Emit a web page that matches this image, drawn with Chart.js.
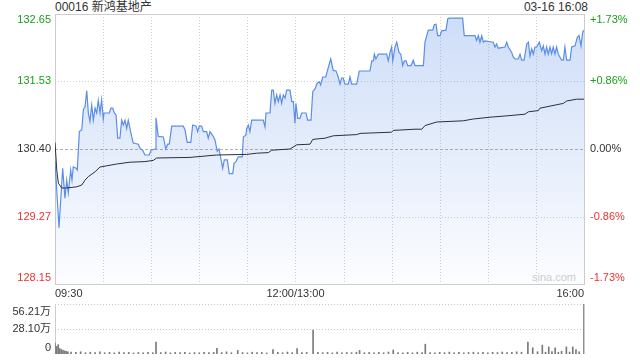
<!DOCTYPE html>
<html>
<head>
<meta charset="utf-8">
<script src="https://cdn.jsdelivr.net/npm/chart.js@4.4.1/dist/chart.umd.min.js"></script>
<style>
  body { margin: 0; background: #fff; }
  #wrap { position: relative; width: 640px; height: 360px; font-family: "Liberation Sans", Arial, "Noto Sans CJK SC", sans-serif; color: #333; }
  #title { position: absolute; left: 55px; top: 0px; font-size: 12px; line-height: 14px; }
  #stamp { position: absolute; right: 52px; top: 0px; font-size: 12px; line-height: 14px; }
  #mark { position: absolute; left: 532px; top: 271px; font-size: 11px; line-height: 13px; color: #d0d0d0; }
  canvas { position: absolute; left: 0; }
</style>
</head>
<body>
<div id="wrap">
  <div id="title">00016 新鸿基地产</div>
  <div id="stamp">03-16 16:08</div>
  <div id="mark">sina.com</div>
  <canvas id="price" width="640" height="300" style="top:0"></canvas>
  <canvas id="vol" width="640" height="65" style="top:295px"></canvas>
</div>
<script>
// minutes since 09:30 (lunch break removed, 330 = 16:00)
const priceTimes = [
  0, 2.5, 4.8, 6.2, 7.3, 8.3, 9.8, 10.6, 11.4, 13.1,
  13.9, 15.2, 16.7, 17.7, 18.7, 19.8, 20.8, 21.8, 22.9, 23.9,
  25.0, 26.0, 27.0, 28.1, 29.1, 30.1, 30.6, 33.9, 34.9, 36.0,
  37.0, 38.1, 39.1, 40.5, 41.6, 42.6, 43.7, 44.7, 45.7, 46.8,
  47.8, 48.8, 52.0, 53.0, 54.7, 56.1, 58.8, 59.9, 62.4, 63.0,
  64.4, 67.6, 69.1, 70.3, 71.3, 72.8, 80.0, 81.1, 82.5, 84.7,
  85.9, 88.0, 89.0, 90.0, 91.5, 92.5, 94.6, 95.6, 96.7, 98.7,
  99.8, 101.2, 102.3, 103.4, 104.6, 105.6, 107.5, 108.7, 110.9, 111.7,
  112.9, 114.3, 116.8, 117.5, 119.0, 119.6, 120.6, 121.6, 122.7, 129.9,
  131.0, 131.6, 134.1, 135.2, 136.2, 137.2, 138.3, 139.3, 140.4, 141.4,
  142.4, 143.5, 144.5, 146.6, 147.7, 148.7, 149.7, 150.3, 151.4, 152.8,
  153.9, 156.6, 157.6, 159.7, 160.8, 162.2, 163.6, 164.9, 165.7, 167.0,
  168.9, 170.5, 172.0, 173.6, 175.3, 176.7, 177.8, 178.8, 179.8, 180.9,
  183.0, 184.0, 185.1, 188.2, 189.8, 196.5, 197.6, 198.6, 199.2, 200.2,
  201.7, 206.9, 207.9, 209.0, 210.0, 210.7, 212.1, 213.2, 214.6, 215.7,
  216.9, 217.9, 219.0, 220.0, 222.1, 223.5, 224.6, 229.8, 230.8, 231.9,
  232.9, 235.6, 236.6, 237.7, 238.7, 240.2, 241.2, 243.9, 245.0, 246.0,
  254.3, 254.7, 255.3, 262.0, 263.0, 264.1, 265.1, 266.2, 267.2, 268.2,
  273.4, 274.5, 275.5, 276.5, 280.7, 281.8, 282.8, 284.9, 285.9, 287.0,
  289.0, 290.1, 291.1, 292.6, 294.3, 295.3, 296.3, 297.4, 298.4, 299.4,
  300.5, 302.1, 303.6, 304.6, 305.7, 306.7, 307.7, 308.8, 309.8, 310.8,
  311.9, 312.9, 314.0, 316.1, 317.1, 318.1, 319.2, 321.3, 322.3, 324.4,
  325.8, 326.9, 328.1, 329.2, 330.0
];
const priceValues = [
  130.20, 129.09, 130.08, 129.58, 129.88, 129.67, 130.05, 129.88, 130.10, 130.08,
  130.05, 130.69, 130.72, 131.06, 131.10, 131.37, 131.00, 130.86, 131.13, 130.88,
  131.08, 131.00, 131.21, 131.00, 131.22, 130.90, 131.00, 131.00, 131.08, 131.08,
  131.00, 130.97, 130.58, 130.58, 130.88, 130.80, 130.88, 130.74, 130.88, 130.74,
  130.61, 130.50, 130.48, 130.41, 130.38, 130.30, 130.30, 130.38, 130.40, 130.92,
  130.61, 130.60, 130.40, 130.48, 130.48, 130.78, 130.78, 130.72, 130.51, 130.51,
  130.80, 130.78, 130.69, 130.78, 130.78, 130.69, 130.69, 130.58, 130.69, 130.61,
  130.55, 130.36, 130.40, 130.25, 130.08, 130.22, 130.22, 129.99, 129.99, 130.16,
  130.19, 130.27, 130.27, 130.60, 130.63, 130.74, 130.80, 130.69, 130.88, 130.88,
  130.77, 131.00, 131.00, 131.38, 131.38, 131.16, 131.30, 131.19, 131.30, 131.16,
  131.30, 131.25, 131.38, 131.38, 131.19, 131.19, 130.83, 131.16, 130.91, 130.91,
  131.00, 131.00, 130.88, 130.88, 131.36, 131.40, 131.50, 131.52, 131.47, 131.60,
  131.60, 131.76, 131.90, 131.71, 131.70, 131.60, 131.48, 131.58, 131.58, 131.48,
  131.48, 131.60, 131.48, 131.48, 131.70, 131.70, 131.87, 131.87, 131.98, 131.90,
  131.98, 131.98, 131.87, 132.01, 132.10, 131.87, 132.10, 132.18, 132.01, 131.98,
  131.79, 131.87, 131.87, 131.79, 131.79, 131.88, 131.79, 131.79, 132.18, 132.29,
  132.38, 132.38, 132.47, 132.48, 132.29, 132.29, 132.37, 132.38, 132.57, 132.58,
  132.58, 132.46, 132.29, 132.29, 132.21, 132.29, 132.18, 132.29, 132.18, 132.20,
  132.18, 132.10, 132.15, 132.08, 132.10, 132.18, 132.10, 132.01, 131.93, 131.90,
  131.90, 131.98, 131.88, 131.88, 132.15, 132.18, 131.95, 132.07, 131.98, 132.10,
  132.10, 132.18, 132.04, 132.12, 131.98, 132.10, 131.98, 132.10, 131.99, 132.10,
  131.98, 132.10, 131.98, 131.88, 131.88, 132.10, 131.88, 131.88, 132.10, 132.12,
  132.26, 132.29, 132.12, 132.35, 132.38
];
// average price line
const avgTimes = [
  0, 1.1, 2.1, 4.2, 7.3, 13.5, 16.7, 18.7, 20.8, 25.0,
  28.1, 32.3, 38.5, 46.8, 56.1, 61.3, 63.4, 84.2, 100.9, 119.6,
  125.8, 133.1, 135.2, 146.6, 150.8, 159.1, 160.8, 168.4, 173.6, 188.2,
  190.3, 210.0, 211.0, 224.6, 228.8, 230.8, 238.1, 254.7, 260.9, 271.4,
  280.7, 293.2, 295.3, 301.5, 302.5, 317.1, 319.2, 325.4, 330
];
const avgValues = [
  130.51, 130.05, 129.83, 129.75, 129.75, 129.77, 129.80, 129.88, 129.94, 130.02,
  130.10, 130.12, 130.15, 130.18, 130.19, 130.21, 130.25, 130.26, 130.30, 130.31,
  130.33, 130.34, 130.38, 130.40, 130.47, 130.48, 130.56, 130.58, 130.62, 130.64,
  130.66, 130.68, 130.71, 130.73, 130.73, 130.79, 130.85, 130.87, 130.90, 130.93,
  130.95, 130.98, 131.02, 131.04, 131.08, 131.16, 131.20, 131.23, 131.23
];
// volume, in 万
const volTimes = [
  0, 1, 2, 3, 4, 5, 6, 7, 8,
  10, 13, 16, 19, 22, 25, 28, 31, 34, 37, 40, 43, 46, 49, 52, 55, 58, 61,
  63, 66, 69, 72, 75, 78, 81, 84, 87, 90, 93, 96, 99,
  101, 104, 107, 110, 114, 117, 120, 123, 126, 129, 132,
  136, 139, 142, 145, 148, 151, 154, 157, 161,
  164, 167, 170, 173, 176, 179, 182, 185, 188, 190,
  193, 196, 199, 202, 205, 208, 211, 214, 217, 220, 223, 226, 229, 231,
  234, 237, 240, 243, 246, 249, 252, 255, 258, 261, 264, 267, 270, 273, 276, 279, 282, 285, 288, 291,
  295, 298, 301, 304, 306, 308, 310, 312, 314, 316, 319, 321, 323, 325, 327, 330
];
const volValues = [
  12.4, 8.5, 10.5, 6, 5, 4, 3.5, 3, 2.5,
  2.2, 1.8, 2.5, 1.5, 2.0, 1.6, 2.4, 1.4, 1.9, 1.3, 2.1, 1.5, 1.8, 1.2, 1.7, 1.4, 2.0, 1.5,
  13.5, 1.6, 2.2, 1.3, 1.8, 1.5, 1.9, 1.2, 1.6, 1.4, 2.0, 1.5, 1.8,
  6.5, 1.6, 2.4, 1.4, 4.0, 1.7, 1.3, 2.0, 1.5, 1.8, 1.2,
  5.0, 1.9, 1.4, 2.2, 1.6, 6.0, 1.5, 1.8, 27.0,
  2.0, 1.5, 1.8, 1.3, 2.1, 1.4, 1.7, 1.5, 2.0, 4.0,
  1.5, 1.8, 1.3, 1.9, 1.4, 2.2, 4.5, 1.6, 1.4, 1.8, 1.3, 2.0, 1.5, 11.0,
  1.7, 1.4, 1.9, 1.5, 2.1, 1.4, 1.8, 1.3, 1.7, 2.0, 1.5, 1.8, 1.3, 1.9, 1.6, 2.2, 1.5, 1.8, 2.4, 2.0,
  13.5, 7.0, 2.5, 10.0, 2.0, 8.0, 2.6, 7.0, 2.0, 3.0, 8.0, 2.2, 8.0, 5.0, 2.5, 56.21
];

const priceTicks = [132.65, 131.53, 130.40, 129.27, 128.15];
const pctTicks = ['+1.73%', '+0.86%', '0.00%', '-0.86%', '-1.73%'];
const tickColors = ['#19a019', '#19a019', '#333333', '#f03030', '#f03030'];
const gridTimes = [30, 60, 90, 120, 150, 180, 210, 240, 270, 300];
const timeTicks = [0, 150, 330];
const timeLabels = ['09:30', '12:00/13:00', '16:00'];
const volTicks = [56.21, 28.10, 0];
const volLabels = ['56.21万', '28.10万', '0'];

const FONT = '11px "Liberation Sans", Arial, "Noto Sans CJK SC", sans-serif';

function seg(ctx, x1, y1, x2, y2) {
  ctx.beginPath();
  ctx.moveTo(x1, y1);
  ctx.lineTo(x2, y2);
  ctx.stroke();
}

const priceFrame = {
  id: 'priceFrame',
  beforeDatasetsDraw(chart) {
    const { ctx, chartArea: a, scales: { x, y } } = chart;
    ctx.save();
    ctx.lineWidth = 1;
    ctx.strokeStyle = '#cfcfcf';
    ctx.setLineDash([1, 2]);
    gridTimes.forEach(t => {
      const px = Math.round(x.getPixelForValue(t)) + 0.5;
      seg(ctx, px, a.top, px, a.bottom);
    });
    [priceTicks[1], priceTicks[3]].forEach(v => {
      const py = Math.round(y.getPixelForValue(v)) + 0.5;
      seg(ctx, a.left, py, a.right, py);
    });
    ctx.strokeStyle = '#b0b0b0';
    ctx.setLineDash([3, 2]);
    const mid = Math.round(y.getPixelForValue(priceTicks[2])) + 0.5;
    seg(ctx, a.left, mid, a.right, mid);
    ctx.setLineDash([]);
    ctx.strokeStyle = '#cccccc';
    ctx.strokeRect(Math.round(a.left) + 0.5, Math.round(a.top) + 0.5,
      Math.round(a.right - a.left), Math.round(a.bottom - a.top));
    ctx.restore();
  },
  afterDraw(chart) {
    const { ctx, chartArea: a, scales: { x, y } } = chart;
    ctx.save();
    ctx.font = FONT;
    ctx.textBaseline = 'middle';
    priceTicks.forEach((v, i) => {
      let py = y.getPixelForValue(v);
      if (i === 0) py += 6;
      if (i === priceTicks.length - 1) py -= 6;
      ctx.fillStyle = tickColors[i];
      ctx.textAlign = 'right';
      ctx.fillText(v.toFixed(2), a.left - 4, py);
      ctx.textAlign = 'left';
      ctx.fillText(pctTicks[i], a.right + 6, py);
    });
    ctx.fillStyle = '#333';
    timeTicks.forEach((t, i) => {
      ctx.textAlign = i === 0 ? 'left' : (i === timeTicks.length - 1 ? 'right' : 'center');
      ctx.fillText(timeLabels[i], x.getPixelForValue(t), a.bottom + 10);
    });
    ctx.restore();
  }
};

const volFrame = {
  id: 'volFrame',
  beforeDatasetsDraw(chart) {
    const { ctx, chartArea: a, scales: { y } } = chart;
    ctx.save();
    ctx.lineWidth = 1;
    ctx.strokeStyle = '#c8c8c8';
    ctx.setLineDash([1, 2]);
    [volTicks[0], volTicks[1]].forEach(v => {
      const py = Math.round(y.getPixelForValue(v)) + 0.5;
      seg(ctx, a.left, py, a.right, py);
    });
    ctx.setLineDash([]);
    ctx.strokeStyle = '#cccccc';
    seg(ctx, Math.round(a.left) + 0.5, a.top, Math.round(a.left) + 0.5, a.bottom);
    seg(ctx, Math.round(a.right) + 0.5, a.top, Math.round(a.right) + 0.5, a.bottom);
    ctx.restore();
  },
  afterDraw(chart) {
    const { ctx, chartArea: a, scales: { y } } = chart;
    ctx.save();
    ctx.font = FONT;
    ctx.textBaseline = 'middle';
    ctx.textAlign = 'right';
    ctx.fillStyle = '#333';
    volTicks.forEach((v, i) => {
      let py = y.getPixelForValue(v);
      if (i === 0) py += 8;
      if (i === volTicks.length - 1) py -= 6;
      ctx.fillText(volLabels[i], a.left - 4, py);
    });
    ctx.restore();
  }
};

new Chart(document.getElementById('price'), {
  type: 'line',
  data: {
    datasets: [{
      label: '均价',
      data: avgTimes.map((t, i) => ({ x: t, y: avgValues[i] })),
      borderColor: '#2b2f3a',
      borderWidth: 1,
      fill: false
    }, {
      label: '价格',
      data: priceTimes.map((t, i) => ({ x: t, y: priceValues[i] })),
      borderColor: '#5b8ee8',
      borderWidth: 1.2,
      fill: 'start',
      backgroundColor(c) {
        const a = c.chart.chartArea;
        if (!a) return 'rgba(0,0,0,0)';
        const g = c.chart.ctx.createLinearGradient(0, a.top, 0, a.bottom);
        g.addColorStop(0, 'rgba(91,142,232,0.30)');
        g.addColorStop(1, 'rgba(91,142,232,0.02)');
        return g;
      }
    }]
  },
  options: {
    responsive: false,
    animation: false,
    devicePixelRatio: 1,
    layout: { padding: { left: 55, right: 56, top: 14, bottom: 16 } },
    elements: { point: { radius: 0 }, line: { tension: 0 } },
    plugins: { legend: { display: false }, tooltip: { enabled: false } },
    scales: {
      x: { type: 'linear', display: false, min: 0, max: 330 },
      y: { type: 'linear', display: false, min: 128.15, max: 132.65 }
    }
  },
  plugins: [priceFrame]
});

new Chart(document.getElementById('vol'), {
  type: 'bar',
  data: {
    datasets: [{
      label: '成交量',
      data: volTimes.map((t, i) => ({ x: t, y: volValues[i] })),
      backgroundColor: '#7a7a7a',
      barThickness: 1,
      grouped: false
    }]
  },
  options: {
    responsive: false,
    animation: false,
    devicePixelRatio: 1,
    layout: { padding: { left: 55, right: 56, top: 9, bottom: 6 } },
    plugins: { legend: { display: false }, tooltip: { enabled: false } },
    scales: {
      x: { type: 'linear', display: false, min: 0, max: 330, offset: false },
      y: { type: 'linear', display: false, min: 0, max: 56.21 }
    }
  },
  plugins: [volFrame]
});
</script>
</body>
</html>
